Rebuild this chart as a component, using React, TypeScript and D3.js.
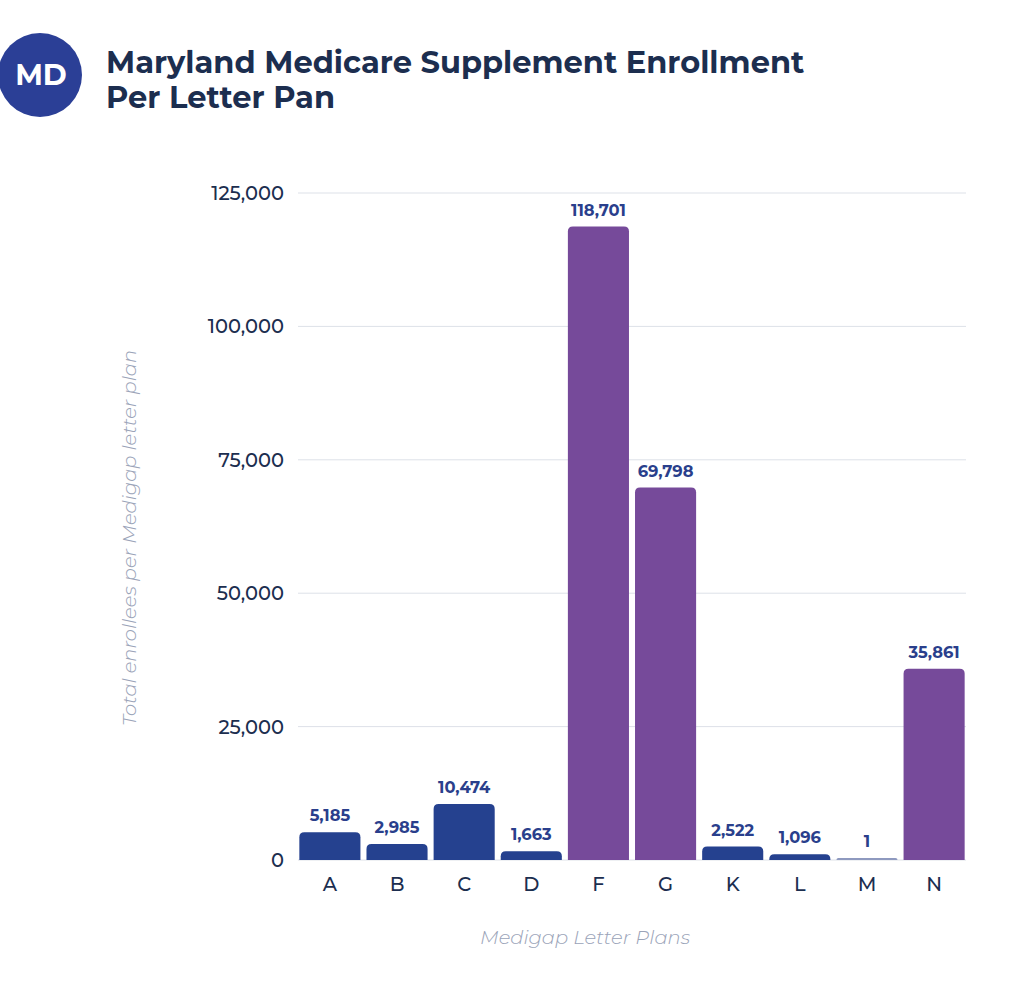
import React from "react";
import * as d3 from "d3";

const categories = ["A", "B", "C", "D", "F", "G", "K", "L", "M", "N"];
const values = [5185, 2985, 10474, 1663, 118701, 69798, 2522, 1096, 1, 35861];
const highlighted = ["F", "G", "N"];
const yTicks = [0, 25000, 50000, 75000, 100000, 125000];

const W = 1024;
const H = 985;
const margin = { left: 298, right: 58, top: 193, bottom: 125 };

export default function App() {
  const x = d3
    .scaleBand<string>()
    .domain(categories)
    .range([margin.left, W - margin.right])
    .paddingInner(0.09)
    .paddingOuter(0.02);
  const y = d3.scaleLinear().domain([0, 125000]).range([H - margin.bottom, margin.top]);
  const fmt = d3.format(",");
  const font = "Montserrat, 'DejaVu Sans', sans-serif";

  const barPath = (x0: number, y0: number, w: number, h: number, r: number) => {
    const rr = Math.min(r, h, w / 2);
    return `M${x0},${y0 + h} L${x0},${y0 + rr} Q${x0},${y0} ${x0 + rr},${y0} L${x0 + w - rr},${y0} Q${x0 + w},${y0} ${x0 + w},${y0 + rr} L${x0 + w},${y0 + h} Z`;
  };

  return (
    <svg
      width={W}
      height={H}
      style={{ position: "absolute", left: 0, top: 0, background: "#fff" }}
      fontFamily={font}
    >
      <circle cx={40} cy={75} r={42} fill="#2b3f96" />
      <text x={41} y={85} textAnchor="middle" fill="#fff" fontSize={29} fontWeight={700}>
        MD
      </text>
      <text x={106} y={73} fill="#1c2e4f" fontSize={30.5} fontWeight={700}>
        Maryland Medicare Supplement Enrollment
      </text>
      <text x={106} y={108} fill="#1c2e4f" fontSize={30.5} fontWeight={700}>
        Per Letter Pan
      </text>

      {yTicks.map((t) => (
        <g key={t}>
          <line x1={margin.left} x2={W - margin.right} y1={y(t)} y2={y(t)} stroke="#dde1e8" strokeWidth={1} />
          <text x={284} y={y(t) + 7} textAnchor="end" fill="#1c2e4f" fontSize={19.5} fontWeight={500}>
            {fmt(t)}
          </text>
        </g>
      ))}

      {categories.map((c, i) => {
        const v = values[i];
        const x0 = x(c)!;
        const bw = x.bandwidth();
        const top = y(v);
        const h = Math.max(y(0) - top, 2);
        const isHi = highlighted.includes(c);
        const fill = v < 10 ? "#8e99bf" : isHi ? "#764a9a" : "#25418f";
        return (
          <g key={c}>
            <path d={barPath(x0, y(0) - h, bw, h, 5)} fill={fill} />
            <text
              x={x0 + bw / 2}
              y={y(0) - h - 11}
              textAnchor="middle"
              fill="#2a3f8c"
              fontSize={16.3}
              fontWeight={700}
            >
              {fmt(v)}
            </text>
            <text x={x0 + bw / 2} y={y(0) + 31} textAnchor="middle" fill="#1c2e4f" fontSize={19.5} fontWeight={500}>
              {c}
            </text>
          </g>
        );
      })}

      <text x={585} y={944} textAnchor="middle" fill="#9aa3b8" fontSize={19.5} fontStyle="italic" fontWeight={300}>
        Medigap Letter Plans
      </text>
      <text
        transform={`translate(136,538) rotate(-90)`}
        textAnchor="middle"
        fill="#9aa3b8"
        fontSize={19.5}
        fontStyle="italic"
        fontWeight={300}
      >
        Total enrollees per Medigap letter plan
      </text>
    </svg>
  );
}
